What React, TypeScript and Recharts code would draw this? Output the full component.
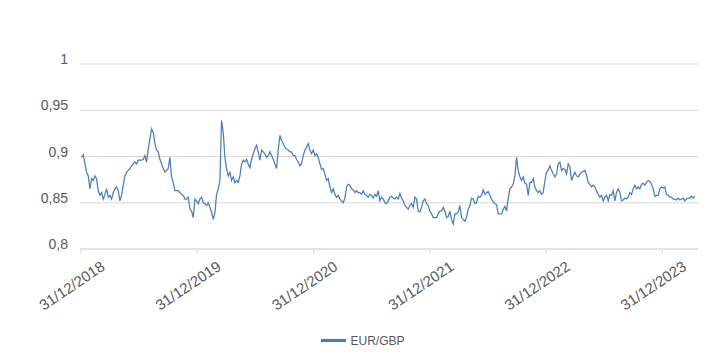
import React from "react";
import { LineChart, Line, XAxis, YAxis, CartesianGrid, Legend } from "recharts";

const DAY = 86400000;
const START = Date.UTC(2019, 0, 2);
const STEP_DAYS = 5.234;

// EUR/GBP, every 5 days
const rates2019 = [
  0.899, 0.902, 0.892, 0.883, 0.879, 0.865, 0.876, 0.874, 0.879, 0.876,
  0.863, 0.858, 0.861, 0.854, 0.859, 0.865, 0.856, 0.858, 0.854, 0.861,
  0.865, 0.867, 0.863, 0.852, 0.858, 0.869, 0.879, 0.883, 0.885, 0.887,
  0.89, 0.892, 0.894, 0.892, 0.896, 0.896, 0.896, 0.897, 0.901, 0.894,
  0.908, 0.919, 0.93, 0.926, 0.914, 0.907, 0.905, 0.897, 0.892, 0.887,
  0.883, 0.885, 0.887, 0.899, 0.878, 0.872, 0.863, 0.863, 0.863, 0.861,
  0.859, 0.858, 0.854, 0.854, 0.856, 0.843, 0.841, 0.834, 0.854, 0.852,
  0.849, 0.854,
];
const rates2020 = [
  0.856, 0.85, 0.849, 0.847, 0.85, 0.845, 0.84, 0.832, 0.839, 0.859,
  0.865, 0.874, 0.939, 0.926, 0.899, 0.887, 0.879, 0.883, 0.874, 0.878,
  0.872, 0.874, 0.872, 0.879, 0.892, 0.896, 0.894, 0.897, 0.892, 0.888,
  0.897, 0.903, 0.908, 0.912, 0.905, 0.896, 0.907, 0.905, 0.903, 0.899,
  0.901, 0.905, 0.901, 0.897, 0.892, 0.887, 0.907, 0.923, 0.917, 0.914,
  0.91, 0.908, 0.907, 0.905, 0.905, 0.901, 0.901, 0.897, 0.894, 0.89,
  0.892, 0.901, 0.907, 0.91, 0.914, 0.907, 0.903, 0.907, 0.901, 0.903,
  0.899, 0.892,
];
const rates2021 = [
  0.886, 0.887, 0.881, 0.874, 0.876, 0.867, 0.861, 0.865, 0.859, 0.856,
  0.858, 0.854, 0.852, 0.85, 0.855, 0.867, 0.87, 0.869, 0.865, 0.864,
  0.861, 0.863, 0.861, 0.861, 0.859, 0.863, 0.859, 0.858, 0.856, 0.859,
  0.858, 0.855, 0.859, 0.857, 0.863, 0.852, 0.856, 0.854, 0.85, 0.849,
  0.852, 0.856, 0.857, 0.855, 0.854, 0.856, 0.854, 0.86, 0.855, 0.852,
  0.847, 0.845, 0.843, 0.847, 0.849, 0.845, 0.856, 0.854, 0.841, 0.84,
  0.845, 0.852, 0.854, 0.849, 0.847, 0.841, 0.838, 0.834, 0.834, 0.834,
  0.838, 0.841,
];
const rates2022 = [
  0.841, 0.845, 0.841, 0.834, 0.835, 0.841, 0.832, 0.827, 0.838, 0.838,
  0.84, 0.847, 0.834, 0.832, 0.83, 0.834, 0.843, 0.847, 0.855, 0.854,
  0.849, 0.85, 0.857, 0.856, 0.858, 0.864, 0.859, 0.861, 0.862, 0.858,
  0.854, 0.851, 0.849, 0.848, 0.838, 0.838, 0.838, 0.843, 0.846, 0.841,
  0.855, 0.865, 0.867, 0.87, 0.879, 0.899, 0.885, 0.878, 0.874, 0.878,
  0.871, 0.87, 0.858, 0.872, 0.872, 0.876, 0.867, 0.863, 0.861, 0.863,
  0.859, 0.861, 0.874, 0.883, 0.885, 0.89, 0.885, 0.881, 0.878, 0.881,
  0.892, 0.894,
];
const rates2023 = [
  0.885, 0.887, 0.886, 0.881, 0.892, 0.889, 0.874, 0.879, 0.883, 0.879,
  0.878, 0.881, 0.883, 0.884, 0.885, 0.88, 0.872, 0.87, 0.867, 0.869,
  0.867, 0.863, 0.859, 0.856, 0.858, 0.852, 0.856, 0.858, 0.852, 0.859,
  0.858, 0.863, 0.852, 0.861, 0.865, 0.861, 0.852, 0.853, 0.855, 0.854,
  0.856, 0.861, 0.859, 0.865, 0.869, 0.865, 0.867, 0.865, 0.87, 0.871,
  0.869, 0.872, 0.874, 0.873, 0.87, 0.865, 0.857, 0.858, 0.858, 0.865,
  0.867, 0.866, 0.867, 0.859, 0.858, 0.856, 0.856, 0.854, 0.854, 0.853,
  0.855, 0.853, 0.854, 0.855, 0.852, 0.854, 0.855, 0.855, 0.857, 0.855,
  0.857,
];

const yearEnds = [2018, 2019, 2020, 2021, 2022, 2023].map((y) => Date.UTC(y, 11, 31));
const rateTicks = [0.8, 0.85, 0.9, 0.95, 1];
const domainX = [Date.UTC(2018, 11, 28), Date.UTC(2024, 3, 21)];

const data = [...rates2019, ...rates2020, ...rates2021, ...rates2022, ...rates2023].map(
  (rate, i) => ({ t: START + i * STEP_DAYS * DAY, rate })
);

const TEXT = "#595959";
const GRID = "#d9d9d9";

const fmtDate = (t: number) => {
  const d = new Date(t);
  const dd = String(d.getUTCDate()).padStart(2, "0");
  const mm = String(d.getUTCMonth() + 1).padStart(2, "0");
  return `${dd}/${mm}/${d.getUTCFullYear()}`;
};

const DateTick = (props: any) => {
  const { x, y, payload } = props;
  const ax = x + 25;
  const ay = y + 15;
  return (
    <text
      x={ax}
      y={ay}
      textAnchor="end"
      fill={TEXT}
      fontSize={15}
      transform={`rotate(-34, ${ax}, ${ay})`}
    >
      {fmtDate(payload.value)}
    </text>
  );
};

const RateTick = (props: any) => {
  const { x, y, payload } = props;
  return (
    <text x={x - 1} y={y} textAnchor="end" fill={TEXT} fontSize={14}>
      {String(payload.value).replace(".", ",")}
    </text>
  );
};

const App: React.FC = () => {
  return (
    <div style={{ position: "absolute", left: 0, top: 0, fontFamily: "'Liberation Sans', Arial, sans-serif" }}>
      <LineChart width={725} height={359} data={data} margin={{ top: 64, right: 27, left: 0, bottom: 9 }}>
        <CartesianGrid vertical={false} stroke={GRID} />
        <XAxis
          dataKey="t"
          type="number"
          scale="time"
          domain={domainX}
          ticks={yearEnds}
          tick={<DateTick />}
          height={76}
          stroke={GRID}
          tickSize={5}
          tickMargin={0}
          interval={0}
        />
        <YAxis
          domain={[0.8, 1]}
          ticks={rateTicks}
          width={80}
          axisLine={false}
          tickLine={false}
          tickSize={0}
          tickMargin={11}
          tick={<RateTick />}
          interval={0}
        />
        <Legend
          verticalAlign="bottom"
          iconType="plainline"
          iconSize={25}
          wrapperStyle={{ left: 19, bottom: 6 }}
          formatter={(value) => <span style={{ color: TEXT, fontSize: 12 }}>{value}</span>}
        />
        <Line
          type="linear"
          dataKey="rate"
          name="EUR/GBP"
          stroke="#4a7ebb"
          strokeWidth={1.25}
          dot={false}
          isAnimationActive={false}
        />
      </LineChart>
    </div>
  );
};

export default App;
